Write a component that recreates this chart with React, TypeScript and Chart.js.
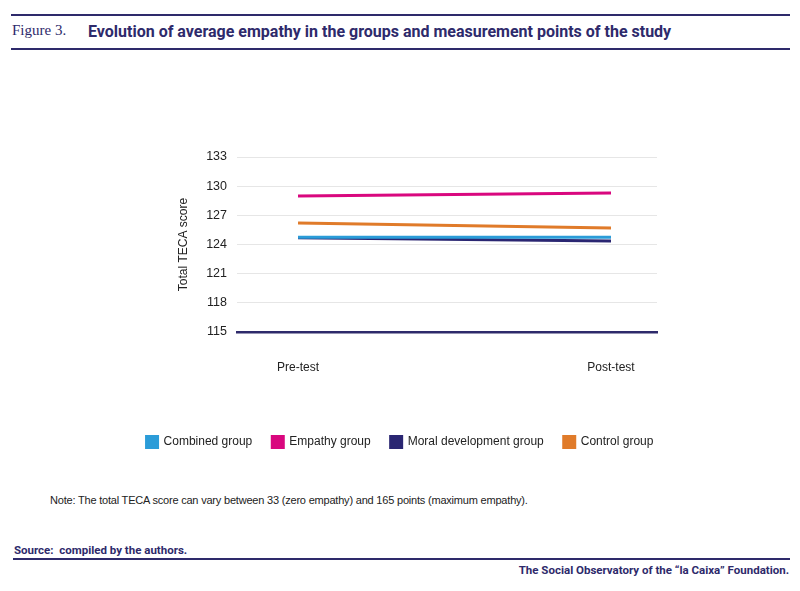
import { useEffect, useRef } from "react"
import { Chart, registerables } from "chart.js"

Chart.register(...registerables)

const measurementPoints = ["Pre-test", "Post-test"]
const groupNames = ["Combined group", "Empathy group", "Moral development group", "Control group"]
const combinedScores = [124.75, 124.75]
const empathyScores = [129.0, 129.3]
const moralScores = [124.7, 124.35]
const controlScores = [126.2, 125.7]
const yTicks = [115, 118, 121, 124, 127, 130, 133]

const groupColors = ["#2b9cd8", "#d9077e", "#2a2672", "#e07b2a"]
const navy = "#2e2a6b"
const sansFont = "'Liberation Sans', Arial, sans-serif"

function TecaChart() {
  const chartRef = useRef<HTMLCanvasElement>(null)
  const chartInstance = useRef<Chart | null>(null)

  useEffect(() => {
    if (!chartRef.current) return
    if (chartInstance.current) chartInstance.current.destroy()
    const ctx = chartRef.current.getContext("2d")
    if (!ctx) return

    const series = [combinedScores, empathyScores, moralScores, controlScores]

    chartInstance.current = new Chart(ctx, {
      type: "line",
      data: {
        datasets: series.map((values, i) => ({
          label: groupNames[i],
          data: values.map((y, x) => ({ x, y })),
          borderColor: groupColors[i],
          backgroundColor: groupColors[i],
          borderWidth: 3,
          pointRadius: 0,
          tension: 0,
          fill: false,
        })),
      },
      options: {
        animation: false,
        responsive: true,
        maintainAspectRatio: false,
        layout: { padding: { left: 0, right: 0, top: 57, bottom: 12 } },
        font: { family: sansFont },
        scales: {
          x: {
            type: "linear",
            min: -0.195,
            max: 1.147,
            afterBuildTicks: (scale) => {
              scale.ticks = measurementPoints.map((_, i) => ({ value: i }))
            },
            afterFit: (scale) => {
              scale.height = 84
            },
            ticks: {
              callback: (v) => measurementPoints[Number(v)] ?? "",
              color: "#222",
              font: { family: sansFont, size: 12 },
              padding: 20,
              maxRotation: 0,
            },
            grid: { display: false },
            border: { display: true, color: navy, width: 2.5 },
          },
          y: {
            type: "linear",
            position: "left",
            min: 115,
            max: 133,
            afterBuildTicks: (scale) => {
              scale.ticks = yTicks.map((value) => ({ value }))
            },
            afterFit: (scale) => {
              scale.width = 237
            },
            ticks: {
              color: "#222",
              font: { family: sansFont, size: 12.5 },
              padding: 10,
            },
            grid: { color: "#e6e6e6", drawTicks: false },
            border: { display: false },
            title: {
              display: true,
              text: "Total TECA score",
              color: "#222",
              font: { family: sansFont, size: 12 },
              padding: { top: 176, bottom: 0 },
            },
          },
          // empty right-hand axis, only reserves the white margin right of the plot
          yRight: {
            type: "linear",
            position: "right",
            min: 0,
            max: 1,
            afterFit: (scale) => {
              scale.width = 143
            },
            ticks: { display: false },
            grid: { display: false },
            border: { display: false },
          },
        },
        plugins: {
          legend: {
            position: "bottom",
            labels: {
              boxWidth: 11,
              boxHeight: 11,
              padding: 20,
              color: "#222",
              font: { family: sansFont, size: 12 },
            },
          },
          tooltip: { enabled: false },
        },
      },
    })

    return () => {
      if (chartInstance.current) {
        chartInstance.current.destroy()
        chartInstance.current = null
      }
    }
  }, [])

  return <canvas ref={chartRef} />
}

export default function App() {
  return (
    <div
      style={{
        position: "absolute",
        left: 0,
        top: 0,
        width: 800,
        height: 591,
        background: "#fff",
        overflow: "hidden",
        fontFamily: sansFont,
      }}
    >
      <div style={{ position: "absolute", left: 11, right: 10, top: 14, height: 2, background: navy }} />
      <div
        style={{
          position: "absolute",
          left: 12,
          top: 22,
          fontFamily: "'Liberation Serif', 'DejaVu Serif', serif",
          fontSize: 15,
          color: navy,
          whiteSpace: "nowrap",
        }}
      >
        Figure 3.
      </div>
      <div
        style={{
          position: "absolute",
          left: 88,
          top: 22,
          fontFamily: "Roboto, 'Liberation Sans', sans-serif",
          fontWeight: 700,
          fontSize: 16,
          color: navy,
          whiteSpace: "nowrap",
        }}
      >
        Evolution of average empathy in the groups and measurement points of the study
      </div>
      <div style={{ position: "absolute", left: 11, right: 10, top: 48, height: 2, background: navy }} />

      <div style={{ position: "absolute", left: 0, top: 100, width: 800, height: 370 }}>
        <TecaChart />
      </div>

      <div
        style={{
          position: "absolute",
          left: 50,
          top: 494,
          fontSize: 11,
          letterSpacing: -0.2,
          color: "#222",
          whiteSpace: "nowrap",
        }}
      >
        Note: The total TECA score can vary between 33 (zero empathy) and 165 points (maximum empathy).
      </div>

      <div
        style={{
          position: "absolute",
          left: 14,
          top: 543,
          fontFamily: "Roboto, 'Liberation Sans', sans-serif",
          fontWeight: 700,
          fontSize: 11.5,
          color: navy,
          whiteSpace: "nowrap",
        }}
      >
        Source:&nbsp; compiled by the authors.
      </div>
      <div style={{ position: "absolute", left: 13, right: 10, top: 558, height: 2, background: navy }} />
      <div
        style={{
          position: "absolute",
          right: 11,
          top: 563,
          fontFamily: "Roboto, 'Liberation Sans', sans-serif",
          fontWeight: 700,
          fontSize: 11.5,
          color: navy,
          whiteSpace: "nowrap",
        }}
      >
        The Social Observatory of the “la Caixa” Foundation.
      </div>
    </div>
  )
}
